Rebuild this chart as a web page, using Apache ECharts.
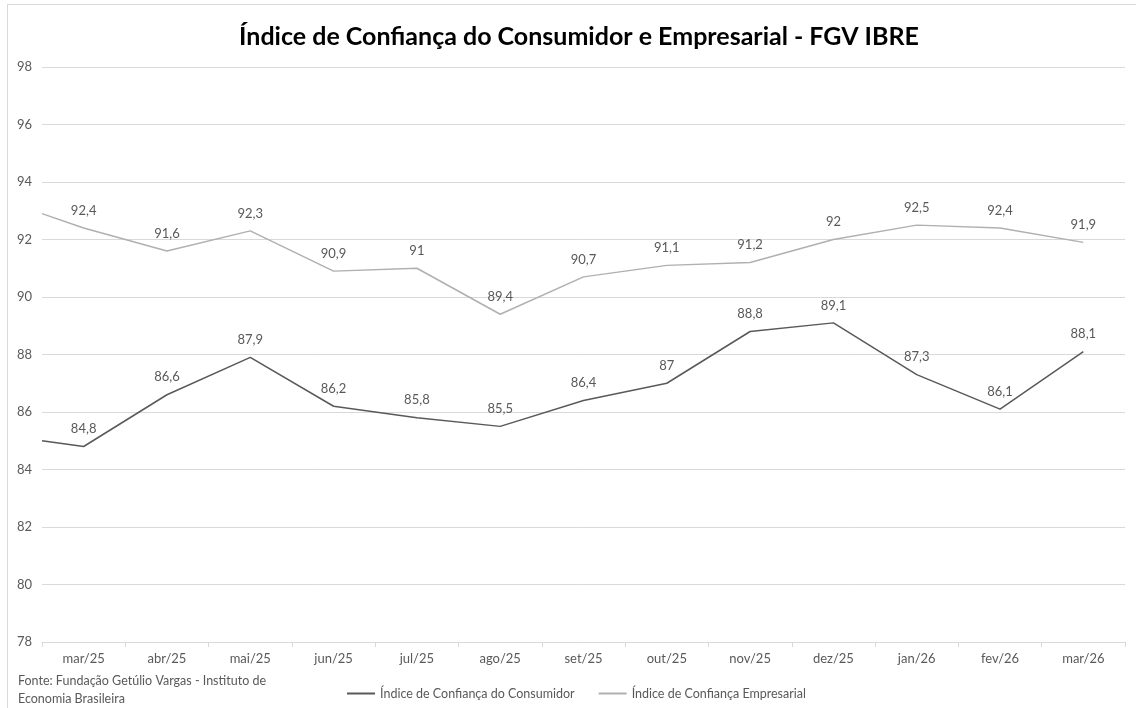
<!DOCTYPE html>
<html>
<head>
<meta charset="utf-8">
<title>Índice de Confiança FGV IBRE</title>
<script src="https://cdn.jsdelivr.net/npm/echarts@6/dist/echarts.min.js"></script>
<style>
    html, body { margin: 0; padding: 0; background: #ffffff; }
    #frame { position: absolute; left: 7px; top: 4px; width: 1140px; height: 720px; border: 1px solid #d9d9d9; }
    #echart_canvas { position: absolute; left: 0; top: 0; width: 1136px; height: 708px; }
</style>
</head>
<body>
<div id="frame"></div>
<div id="echart_canvas"></div>
<script>
// data
let months = ['mar/25', 'abr/25', 'mai/25', 'jun/25', 'jul/25', 'ago/25', 'set/25',
    'out/25', 'nov/25', 'dez/25', 'jan/26', 'fev/26', 'mar/26'];
let consumerValues = [84.8, 86.6, 87.9, 86.2, 85.8, 85.5, 86.4, 87, 88.8, 89.1, 87.3, 86.1, 88.1];
let businessValues = [92.4, 91.6, 92.3, 90.9, 91, 89.4, 90.7, 91.1, 91.2, 92, 92.5, 92.4, 91.9];
// the lines enter from the left edge of the plot
let consumerStart = 85.0;
let businessStart = 92.9;
let yTicks = [78, 80, 82, 84, 86, 88, 90, 92, 94, 96, 98];

let fontName = 'Lato, "Open Sans", sans-serif';
let textColor = '#595959';

function buildPoints(startValue, values) {
    let points = [[-0.5, startValue]];
    for (let i in values) {
        points.push([parseInt(i), values[i]]);
    }
    return points;
}

function formatLabel(params) {
    if (params.dataIndex === 0) {
        return '';
    }
    return String(params.value[1]).replace('.', ',');
}

function makeSeries(name, startValue, values, color) {
    return {
        name: name,
        type: 'line',
        xAxisIndex: 1,
        data: buildPoints(startValue, values),
        symbol: 'circle',
        symbolSize: 0.1,
        showSymbol: true,
        showAllSymbol: true,
        lineStyle: {color: color, width: 1.5},
        itemStyle: {color: color},
        label: {
            show: true,
            position: 'top',
            distance: 11,
            formatter: formatLabel,
            color: textColor,
            fontFamily: fontName,
            fontSize: 13
        },
        labelLayout: {hideOverlap: false},
        emphasis: {disabled: true},
        animation: false
    };
}

let myChart = echarts.init(document.getElementById('echart_canvas'));
let option = {
    title: {
        text: 'Índice de Confiança do Consumidor e Empresarial - FGV IBRE',
        left: 574,
        textAlign: 'center',
        top: 19,
        textStyle: {
            color: '#000000',
            fontFamily: fontName,
            fontWeight: 'bold',
            fontSize: 25
        }
    },
    legend: {
        left: 342,
        top: 682,
        itemWidth: 28,
        itemHeight: 2,
        itemGap: 24,
        icon: 'rect',
        textStyle: {color: textColor, fontFamily: fontName, fontSize: 12.5},
        data: ['Índice de Confiança do Consumidor', 'Índice de Confiança Empresarial']
    },
    graphic: [{
        type: 'text',
        left: 18,
        top: 672,
        style: {
            text: 'Fonte: Fundação Getúlio Vargas - Instituto de\nEconomia Brasileira',
            fill: textColor,
            font: '12.5px ' + fontName,
            lineHeight: 18
        }
    }],
    grid: {left: 42, right: 11, top: 67, bottom: 66},
    xAxis: [{
        type: 'category',
        data: months,
        boundaryGap: true,
        axisLine: {lineStyle: {color: '#d9d9d9'}},
        axisTick: {show: true, length: 5, lineStyle: {color: '#d9d9d9'}},
        axisLabel: {color: textColor, fontFamily: fontName, fontSize: 13, margin: 10}
    }, {
        type: 'value',
        min: -0.5,
        max: months.length - 0.5,
        show: false
    }],
    yAxis: {
        type: 'value',
        min: yTicks[0],
        max: yTicks[yTicks.length - 1],
        interval: 2,
        axisLine: {show: false},
        axisTick: {show: false},
        splitLine: {lineStyle: {color: '#d9d9d9'}},
        axisLabel: {color: textColor, fontFamily: fontName, fontSize: 13, margin: 10}
    },
    series: [
        makeSeries('Índice de Confiança do Consumidor', consumerStart, consumerValues, '#595959'),
        makeSeries('Índice de Confiança Empresarial', businessStart, businessValues, '#b0b0b0')
    ],
    animation: false
};
myChart.setOption(option);
</script>
</body>
</html>
